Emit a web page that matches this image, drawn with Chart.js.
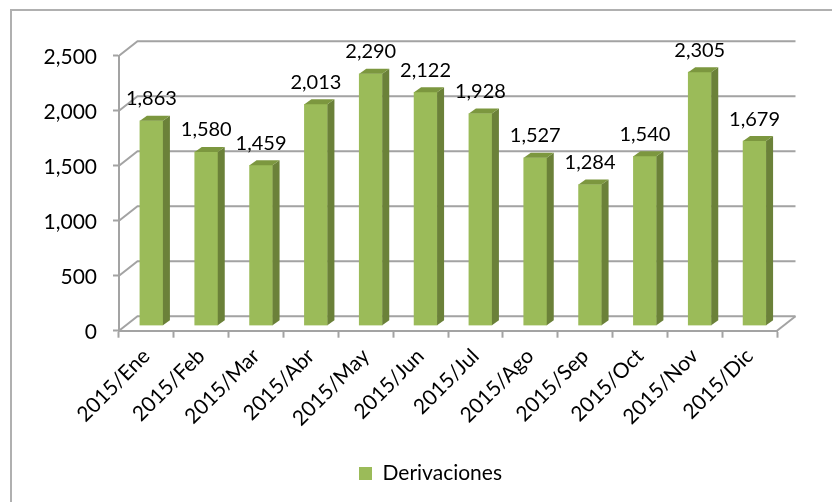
<!DOCTYPE html>
<html><head><meta charset="utf-8">
<script src="https://cdn.jsdelivr.net/npm/chart.js@4"></script>
<style>html,body{margin:0;padding:0;background:#fff}#w{width:832px;height:502px;position:relative}</style>
</head><body><div id="w"><canvas id="c" width="832" height="502"></canvas></div>
<script>
const categories = ["2015/Ene","2015/Feb","2015/Mar","2015/Abr","2015/May","2015/Jun","2015/Jul","2015/Ago","2015/Sep","2015/Oct","2015/Nov","2015/Dic"];
const derivaciones = [1863,1580,1459,2013,2290,2122,1928,1527,1284,1540,2305,1679];
const seriesName = "Derivaciones";
const yTicks = [0,500,1000,1500,2000,2500];
const FONT = "Lato";
const GRID = "#a3a3a3";
const BACK = {x:18.5,y:-14.5};
const BAR = {x:5,y:-5,dx:7,dy:-5};

const depth = {
  id:'depth',
  beforeDraw(chart){
    const c=chart.ctx;
    c.save();
    c.strokeStyle="#b0b0b0";c.lineWidth=2;
    c.beginPath();c.moveTo(832,10);c.lineTo(11,10);c.lineTo(11,502);c.stroke();
    c.restore();
    chart.scales.y.getLabelItems(chart.chartArea).forEach(it=>{
      if(!it._moved){it.options.translation[1]+=2;it._moved=true;}
    });
  },
  afterLayout(chart){
    chart.legend.left+=42;chart.legend.right+=42;
  },
  beforeDatasetsDraw(chart){
    const {ctx:c,scales:{x,y}}=chart;
    c.save();c.strokeStyle=GRID;c.lineWidth=2;
    yTicks.forEach(v=>{
      const p=y.getPixelForValue(v);
      c.beginPath();c.moveTo(x.left,p);c.lineTo(x.left+BACK.x,p+BACK.y);c.lineTo(x.right+BACK.x,p+BACK.y);c.stroke();
    });
    const p0=y.getPixelForValue(0);
    c.beginPath();c.moveTo(x.right,p0);c.lineTo(x.right+BACK.x,p0+BACK.y);c.stroke();
    c.restore();
  },
  beforeDatasetDraw(chart){chart.ctx.save();chart.ctx.translate(BAR.x,BAR.y);},
  afterDatasetDraw(chart,args){
    const c=chart.ctx;
    const meta=chart.getDatasetMeta(args.index);
    meta.data.forEach(b=>{
      const p=b.getProps(['x','y','base','width'],true);
      const l=p.x-p.width/2,r=p.x+p.width/2;
      c.fillStyle="#6b8139";
      c.beginPath();c.moveTo(r,p.y);c.lineTo(r+BAR.dx,p.y+BAR.dy);c.lineTo(r+BAR.dx,p.base+BAR.dy);c.lineTo(r,p.base);c.closePath();c.fill();
      c.fillStyle="#7c973f";
      c.beginPath();c.moveTo(l,p.y);c.lineTo(l+BAR.dx,p.y+BAR.dy);c.lineTo(r+BAR.dx,p.y+BAR.dy);c.lineTo(r,p.y);c.closePath();c.fill();
    });
    c.restore();
  },
  afterDatasetsDraw(chart){
    const c=chart.ctx;
    const meta=chart.getDatasetMeta(0);
    c.save();c.fillStyle="#000";c.font="20px "+FONT;c.textAlign="center";c.textBaseline="alphabetic";
    meta.data.forEach((b,i)=>{
      const p=b.getProps(['x','y'],true);
      c.fillText(derivaciones[i].toLocaleString('en-US'),p.x+BAR.x,p.y+BAR.y-15.5);
    });
    c.restore();
  }
};

new Chart(document.getElementById('c'),{
  type:'bar',
  data:{labels:categories,datasets:[{label:seriesName,data:derivaciones,backgroundColor:"#9bbb59",barThickness:23}]},
  plugins:[depth],
  options:{
    responsive:false,animation:false,
    layout:{padding:{left:0,right:55,top:55.7,bottom:8}},
    plugins:{
      tooltip:{enabled:false},
      legend:{position:'bottom',labels:{boxWidth:13,boxHeight:13,color:"#000",font:{family:FONT,size:21},padding:6}}
    },
    scales:{
      x:{
        afterFit(s){s.height=126.3;},
        grid:{drawOnChartArea:false,drawTicks:true,tickLength:7,tickColor:GRID,tickWidth:2},
        border:{color:GRID,width:2},
        ticks:{color:"#000",font:{family:FONT,size:21},minRotation:45,maxRotation:45,autoSkip:false,padding:6}
      },
      y:{
        min:0,max:2500,
        afterFit(s){s.width=119;},
        afterBuildTicks(s){s.ticks=yTicks.map(v=>({value:v}));},
        grid:{drawOnChartArea:false,drawTicks:true,tickLength:6,tickColor:GRID,tickWidth:2},
        border:{color:GRID,width:2},
        ticks:{color:"#000",font:{family:FONT,size:21},padding:16,callback:v=>v.toLocaleString('en-US')}
      }
    }
  }
});
</script></body></html>
